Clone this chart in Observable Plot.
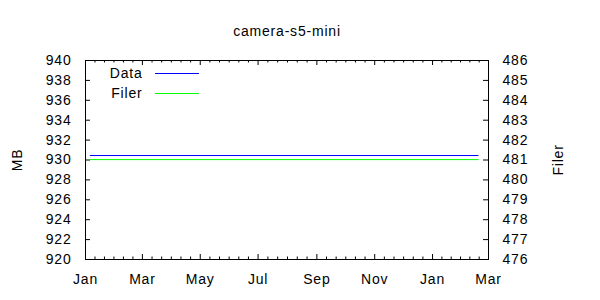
<!DOCTYPE html>
<html>
<head>
<meta charset="utf-8">
<script src="https://cdn.jsdelivr.net/npm/d3@7"></script>
<script src="https://cdn.jsdelivr.net/npm/@observablehq/plot@0.6"></script>
<style>
  html, body { margin: 0; padding: 0; background: #fff; }
  #chart svg { font-family: "Liberation Sans", Arial, sans-serif; }
</style>
</head>
<body>
<div id="chart"></div>
<script>
// ---- data ----
const title = "camera-s5-mini";
const seriesNames = ["Data", "Filer"];
const dates = ["2008-01-06", "2009-02-18"];
const dataMB = [930.45, 930.45];      // left axis (MB)
const filerVals = [481.02, 481.02];   // right axis (Filer)
const yTicksLeft = [920, 922, 924, 926, 928, 930, 932, 934, 936, 938, 940];
const yTicksRight = [476, 477, 478, 479, 480, 481, 482, 483, 484, 485, 486];
const xTickDates = ["2008-01-01", "2008-03-01", "2008-05-01", "2008-07-01", "2008-09-01", "2008-11-01", "2009-01-01", "2009-03-01"];
const colors = ["#0000ff", "#00ff00"];

// ---- build tables ----
const parse = d3.utcParse("%Y-%m-%d");
const xTicks = xTickDates.map(parse);
const leftDomain = [yTicksLeft[0], yTicksLeft[yTicksLeft.length - 1]];
const rightDomain = [yTicksRight[0], yTicksRight[yTicksRight.length - 1]];
const toLeft = d3.scaleLinear().domain(rightDomain).range(leftDomain);
const toRight = toLeft.invert;

const dataRows = dates.map((d, i) => ({date: parse(d), v: dataMB[i]}));
const filerRows = dates.map((d, i) => ({date: parse(d), v: toLeft(filerVals[i])}));

// minor x ticks: 6 subdivisions between majors
const minorTicks = [];
for (let i = 0; i < xTicks.length - 1; i++) {
  const a = +xTicks[i], b = +xTicks[i + 1];
  for (let k = 1; k < 6; k++) minorTicks.push(new Date(a + (b - a) * k / 6));
}

const W = 600, H = 300;
const mL = 85, mR = 112, mT = 60, mB = 41;
const innerW = W - mL - mR, innerH = H - mT - mB;
const FS = "14px", LS = "0.8px";

const plot = Plot.plot({
  width: W, height: H,
  marginLeft: mL, marginRight: mR, marginTop: mT, marginBottom: mB,
  style: {fontFamily: "Liberation Sans, Arial, sans-serif", fontSize: FS, letterSpacing: LS, color: "#000", background: "#fff"},
  x: {type: "utc", domain: [xTicks[0], xTicks[xTicks.length - 1]]},
  y: {domain: leftDomain},
  marks: [
    // inward ticks
    Plot.tickY(yTicksLeft, {y: d => d, insetRight: innerW - 5, stroke: "#000"}),
    Plot.tickY(yTicksLeft, {y: d => d, insetLeft: innerW - 5, stroke: "#000"}),
    Plot.tickX(xTicks, {x: d => d, insetTop: innerH - 5, stroke: "#000"}),
    Plot.tickX(xTicks, {x: d => d, insetBottom: innerH - 5, stroke: "#000"}),
    Plot.tickX(minorTicks, {x: d => d, insetTop: innerH - 2.5, stroke: "#000"}),
    Plot.tickX(minorTicks, {x: d => d, insetBottom: innerH - 2.5, stroke: "#000"}),
    // axes labels
    Plot.axisY({anchor: "left", ticks: yTicksLeft, tickSize: 0, tickPadding: 14, label: null, tickFormat: d => String(d)}),
    Plot.axisY({anchor: "right", ticks: yTicksLeft, tickSize: 0, tickPadding: 14, label: null, tickFormat: d => String(Math.round(toRight(d)))}),
    Plot.axisX({ticks: xTicks, tickSize: 0, tickPadding: 15, label: null, tickFormat: d3.utcFormat("%b")}),
    // series
    Plot.line(dataRows, {x: "date", y: "v", stroke: colors[0], strokeWidth: 1}),
    Plot.line(filerRows, {x: "date", y: "v", stroke: colors[1], strokeWidth: 1}),
    Plot.frame({stroke: "#000"}),
    // titles
    Plot.text([title], {frameAnchor: "top", lineAnchor: "middle", textAnchor: "middle", dy: -29, text: d => d, fill: "#000"}),
    Plot.text(["MB"], {frameAnchor: "left", lineAnchor: "middle", textAnchor: "middle", dx: -68, rotate: -90, text: d => d, fill: "#000"}),
    Plot.text(["Filer"], {frameAnchor: "right", lineAnchor: "middle", textAnchor: "middle", dx: 70, rotate: -90, text: d => d, fill: "#000"}),
    // legend labels (inside plot, top-left, gnuplot style)
    Plot.text(seriesNames, {frameAnchor: "top-left", textAnchor: "end", lineAnchor: "middle", dx: 57, dy: (d, i) => 0, text: d => d, fill: "#000", filter: (d, i) => i === 0, dy: 13.5}),
    Plot.text(seriesNames, {frameAnchor: "top-left", textAnchor: "end", lineAnchor: "middle", dx: 57, text: d => d, fill: "#000", filter: (d, i) => i === 1, dy: 33.5})
  ]
});
document.getElementById("chart").appendChild(plot);

// ---- legend swatches ----
const svg = d3.select(plot);
const lg = svg.append("g");
seriesNames.forEach((name, i) => {
  const y = 73.5 + i * 20;
  lg.append("line").attr("x1", 155).attr("x2", 199).attr("y1", y).attr("y2", y).attr("stroke", colors[i]).attr("stroke-width", 1);
});
</script>
</body>
</html>
